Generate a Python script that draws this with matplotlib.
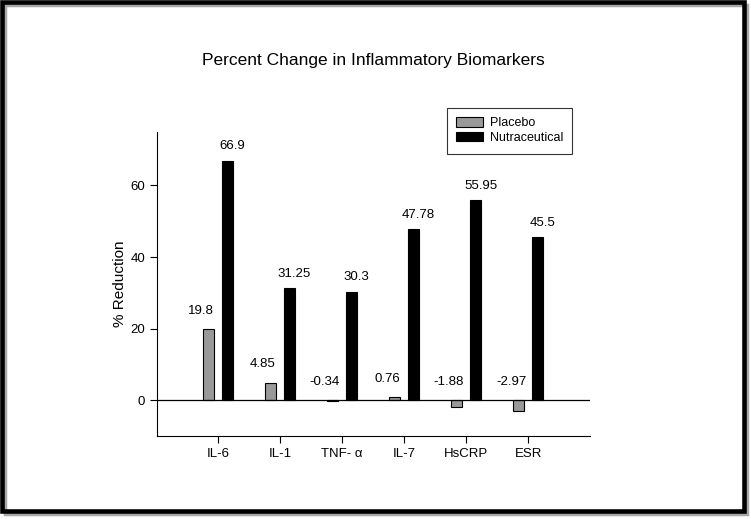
import matplotlib
matplotlib.use("Agg")
import matplotlib.pyplot as plt
import numpy as np
from matplotlib.patches import Rectangle

categories = ["IL-6", "IL-1", "TNF- \u03b1", "IL-7", "HsCRP", "ESR"]
placebo = [19.8, 4.85, -0.34, 0.76, -1.88, -2.97]
nutraceutical = [66.9, 31.25, 30.3, 47.78, 55.95, 45.5]
placebo_labels = ["19.8", "4.85", "-0.34", "0.76", "-1.88", "-2.97"]
nutra_labels = ["66.9", "31.25", "30.3", "47.78", "55.95", "45.5"]
yticks = [0, 20, 40, 60]

plt.rcParams['font.family'] = ['Liberation Sans', 'DejaVu Sans']

fig = plt.figure(figsize=(7.51, 5.19), dpi=100)
ax = fig.add_axes([0.209, 0.160, 0.577, 0.586])

x = np.arange(len(categories))
w = 0.18
off = 0.155
ax.bar(x - off, placebo, w, color="#999999", edgecolor="black", linewidth=0.8, label="Placebo", zorder=2)
ax.bar(x + off, nutraceutical, w, color="black", edgecolor="black", linewidth=0.8, label="Nutraceutical", zorder=2)
ax.axhline(0, color="black", linewidth=0.9, zorder=3)

for i in range(len(categories)):
    ax.annotate(placebo_labels[i], (x[i] - off - 0.12, max(placebo[i], 0)), xytext=(0, 9),
                textcoords="offset points", ha="center", va="bottom", fontsize=9.5)
    ax.annotate(nutra_labels[i], (x[i] + off + 0.08, nutraceutical[i]), xytext=(0, 6),
                textcoords="offset points", ha="center", va="bottom", fontsize=9.5)

ax.set_xlim(-0.98, 6.0)
ax.set_ylim(-10, 75)
ax.set_xticks(x)
ax.set_xticklabels(categories, fontsize=9.5)
ax.set_yticks(yticks)
ax.set_yticklabels([str(t) for t in yticks], fontsize=9.5)
ax.tick_params(direction="out", length=5, width=0.8)
ax.tick_params(axis="y", pad=3.5)
ax.tick_params(axis="x", pad=4)
ax.spines["top"].set_visible(False)
ax.spines["right"].set_visible(False)
ax.set_ylabel("% Reduction", fontsize=11, labelpad=2.5)

leg = fig.legend(*ax.get_legend_handles_labels(), loc="upper left",
                 bbox_to_anchor=(447 / 751, 1 - 108 / 519), bbox_transform=fig.transFigure,
                 fontsize=9, frameon=True, fancybox=False, edgecolor="black",
                 handlelength=2.1, handleheight=0.75, handletextpad=0.55,
                 borderpad=0.75, labelspacing=0.22, borderaxespad=0)
leg.get_frame().set_linewidth(0.8)

fig.text(0.497, 0.883, "Percent Change in Inflammatory Biomarkers", ha="center", va="center", fontsize=12.5)

# outer frame with shadow
fig.patches.append(Rectangle((5 / 751, 5 / 519), 742 / 751, 509 / 519, transform=fig.transFigure,
                             facecolor="none", edgecolor="#a8a8a8", linewidth=2.5, zorder=0))
fig.patches.append(Rectangle((2 / 751, 8.5 / 519), 741.5 / 751, 508.5 / 519, transform=fig.transFigure,
                             facecolor="none", edgecolor="black", linewidth=3.3, zorder=1))

fig.savefig("out.png", dpi=100)
